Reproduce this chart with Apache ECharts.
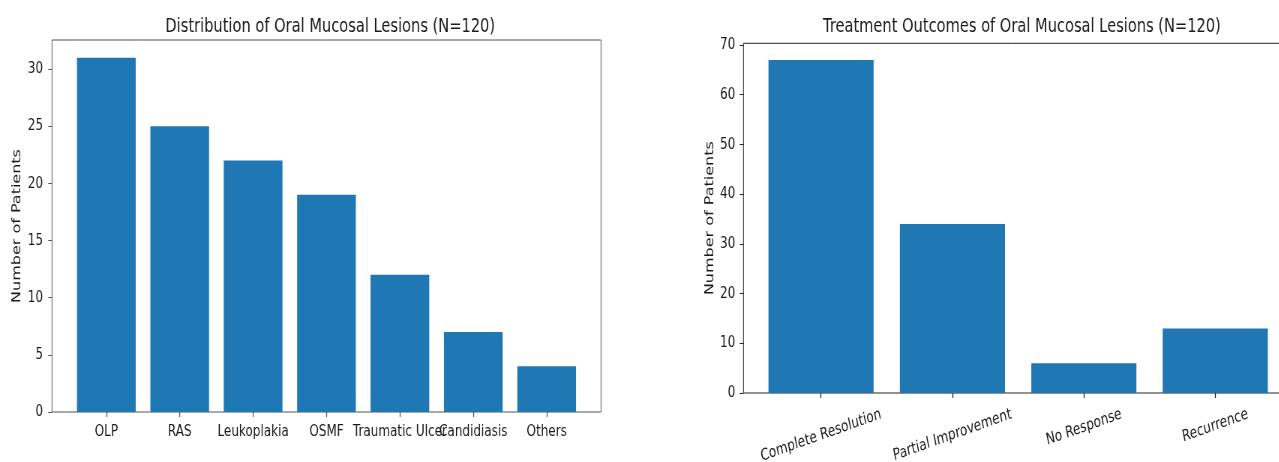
<!DOCTYPE html>
<html>
<head>
<meta charset="utf-8">
<script src="https://cdn.jsdelivr.net/npm/echarts@6/dist/echarts.min.js"></script>
<style>
html,body{margin:0;padding:0;background:#fff;overflow:hidden;width:1279px;height:462px;}
#c{height:462px;transform-origin:0 0;}
</style>
</head>
<body>
<div id="c"></div>
<script>
const lesionCats = ['OLP', 'RAS', 'Leukoplakia', 'OSMF', 'Traumatic Ulcer', 'Candidiasis', 'Others'];
const lesionCounts = [31, 25, 22, 19, 12, 7, 4];
const lesionTicks = [0, 5, 10, 15, 20, 25, 30];

const outcomeCats = ['Complete Resolution', 'Partial Improvement', 'No Response', 'Recurrence'];
const outcomeCounts = [67, 34, 6, 13];
const outcomeTicks = [0, 10, 20, 30, 40, 50, 60, 70];

const titles = ['Distribution of Oral Mucosal Lesions (N=120)', 'Treatment Outcomes of Oral Mucosal Lesions (N=120)'];
const yName = 'Number of Patients';

// The reference figure is horizontally compressed; render wider and squeeze.
const SX = 0.75;
const W = 1279 / SX;
const el = document.getElementById('c');
el.style.width = W + 'px';
el.style.transform = 'scaleX(' + SX + ')';
const X = v => v / SX; // convert picture x to chart x

const FONT = '"DejaVu Sans", sans-serif';
const BAR = '#1f77b4';
const TXT = '#1a1a1a';
const FS = 16;

// matplotlib-like layout: x limits = [-0.5 - margin, n - 0.5 + margin]
function layout(frameLeft, frameWidth, n) {
  const span = (n - 1) + 0.8;
  const m = 0.05 * span;
  const units = span + 2 * m;
  const ppu = frameWidth / units;
  const off = (m - 0.1) * ppu;
  return { left: frameLeft + off, width: n * ppu, offset: off };
}
const LF = { left: X(52), width: X(549) };
const RF = { left: X(743.5), width: X(549.3) };
const L = layout(LF.left, LF.width, lesionCats.length);
const R = layout(RF.left, RF.width, outcomeCats.length);
const leftMax = Math.max(...lesionCounts) * 1.05;
const rightMax = Math.max(...outcomeCounts) * 1.05;

// rotated labels centred like matplotlib (rotation about bbox centre)
const ROT = 15;
const th = ROT * Math.PI / 180;
const cv = document.createElement('canvas').getContext('2d');
cv.font = FS + 'px ' + FONT;
const rich = {};
outcomeCats.forEach((c, i) => {
  const w = cv.measureText(c).width;
  rich['r' + i] = {
    fontFamily: FONT, fontSize: FS, color: TXT,
    padding: [w * Math.sin(th) * Math.cos(th), w * Math.sin(th) * Math.sin(th), 0, 0]
  };
});

const chart = echarts.init(el, null, { renderer: 'canvas', width: W, height: 462 });
chart.setOption({
  animation: false,
  title: [
    { text: titles[0], left: LF.left + LF.width / 2, top: 12, textAlign: 'center',
      textStyle: { fontFamily: FONT, fontSize: 19.5, fontWeight: 'normal', color: TXT } },
    { text: titles[1], left: RF.left + RF.width / 2, top: 12, textAlign: 'center',
      textStyle: { fontFamily: FONT, fontSize: 19.5, fontWeight: 'normal', color: TXT } }
  ],
  grid: [
    { left: LF.left, top: 40, width: LF.width, height: 372, show: true, borderColor: '#555', borderWidth: 1, backgroundColor: 'transparent', outerBoundsMode: 'none', containLabel: false },
    { left: L.left, top: 40, width: L.width, height: 372, outerBoundsMode: 'none', containLabel: false },
    { left: RF.left, top: 43.3, width: RF.width, height: 349.7, show: true, borderColor: '#222', borderWidth: 1, backgroundColor: 'transparent', outerBoundsMode: 'none', containLabel: false },
    { left: R.left, top: 43.3, width: R.width, height: 349.7, outerBoundsMode: 'none', containLabel: false }
  ],
  xAxis: [
    { gridIndex: 0, type: 'value', show: false, min: 0, max: 1 },
    { gridIndex: 1, type: 'category', data: lesionCats,
      axisLine: { show: false },
      axisTick: { show: true, alignWithLabel: true, length: 5, lineStyle: { color: '#555', width: 1.3 } },
      axisLabel: { interval: 0, hideOverlap: false, margin: 12, fontFamily: FONT, fontSize: FS, color: TXT } },
    { gridIndex: 2, type: 'value', show: false, min: 0, max: 1 },
    { gridIndex: 3, type: 'category', data: outcomeCats,
      axisLine: { show: false },
      axisTick: { show: true, alignWithLabel: true, length: 5, lineStyle: { color: '#222', width: 1.3 } },
      axisLabel: { interval: 0, hideOverlap: false, rotate: ROT, align: 'center', verticalAlign: 'middle', margin: 21,
        formatter: (v) => '{r' + outcomeCats.indexOf(v) + '|' + v + '}', rich: rich } }
  ],
  yAxis: [
    { gridIndex: 0, type: 'value', show: false, min: 0, max: 1 },
    { gridIndex: 1, type: 'value', min: 0, max: leftMax, offset: L.offset,
      splitLine: { show: false }, axisLine: { show: false },
      axisTick: { show: true, length: 5, customValues: lesionTicks, lineStyle: { color: '#555' } },
      axisLabel: { customValues: lesionTicks, margin: 12, fontFamily: FONT, fontSize: FS, color: TXT },
      name: yName, nameLocation: 'middle', nameRotate: 90, nameGap: 38,
      nameTextStyle: { fontFamily: FONT, fontSize: FS, color: TXT } },
    { gridIndex: 2, type: 'value', show: false, min: 0, max: 1 },
    { gridIndex: 3, type: 'value', min: 0, max: rightMax, offset: R.offset,
      splitLine: { show: false }, axisLine: { show: false },
      axisTick: { show: true, length: 5, customValues: outcomeTicks, lineStyle: { color: '#222' } },
      axisLabel: { customValues: outcomeTicks, margin: 11, fontFamily: FONT, fontSize: FS, color: TXT },
      name: yName, nameLocation: 'middle', nameRotate: 90, nameGap: 36,
      nameTextStyle: { fontFamily: FONT, fontSize: FS, color: TXT } }
  ],
  series: [
    { type: 'bar', xAxisIndex: 1, yAxisIndex: 1, data: lesionCounts, barWidth: '80%',
      itemStyle: { color: BAR }, z: 1 },
    { type: 'bar', xAxisIndex: 3, yAxisIndex: 3, data: outcomeCounts, barWidth: '80%',
      itemStyle: { color: BAR }, z: 1 }
  ]
});
</script>
</body>
</html>
